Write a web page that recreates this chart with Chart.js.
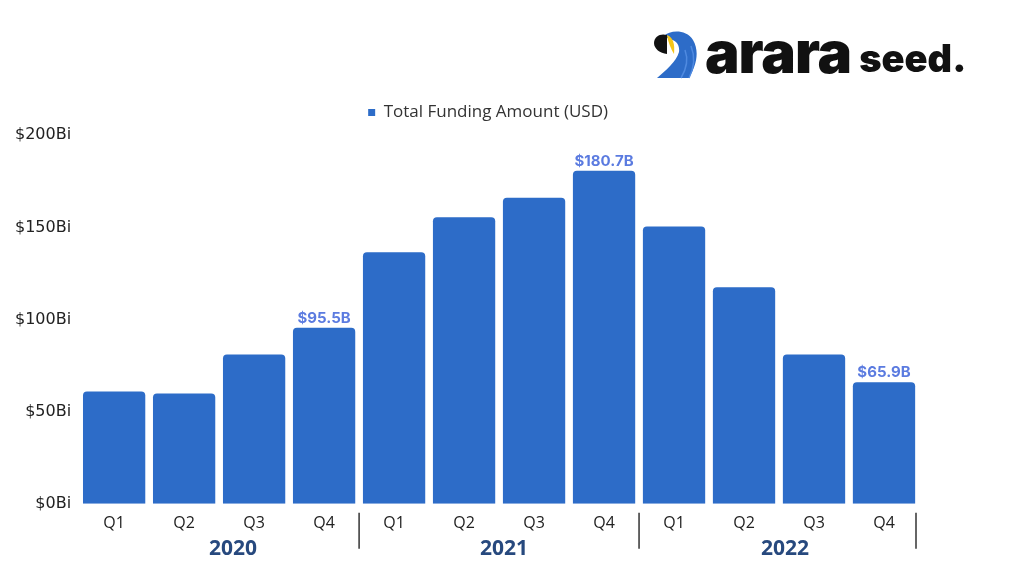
<!DOCTYPE html>
<html>
<head>
<meta charset="utf-8">
<script src="https://cdn.jsdelivr.net/npm/chart.js@4.4.0/dist/chart.umd.min.js"></script>
<style>
  html, body { margin: 0; padding: 0; background: #ffffff; }
  #wrap { position: relative; width: 1024px; height: 576px; }
  #logo { position: absolute; left: 652px; top: 17px; height: 70px; display: flex; align-items: center; font-family: "Inter", sans-serif; color: #111; }
  #logo .big { font-size: 58px; font-weight: 900; letter-spacing: -1px; margin-left: 5px; line-height: 1; }
  #logo .small { font-size: 38px; font-weight: 900; margin-left: 8px; line-height: 1; margin-top: 12px; }
</style>
</head>
<body>
<div id="wrap">
  <canvas id="funding-chart" width="1024" height="576"></canvas>
  <div id="logo">
    <svg width="48" height="50" viewBox="0 0 48 50" style="margin-top:6px">
      <path d="M12 6 C18 0 34 -1 41 10 C48 22 44 36 37 48 L5 48 C14 40 24 32 27 22 C28 15 24 10 17 9 Z" fill="#2d6cc8"/>
      <path d="M37 48 C42 38 43 26 39 16" stroke="#4f8ae0" stroke-width="1.5" fill="none"/>
      <path d="M29 48 C35 38 36 28 33 20" stroke="#4f8ae0" stroke-width="1.5" fill="none"/>
      <path d="M2 13 C2 6 9 3 15 5 L15 24 C8 23 2 19 2 13 Z" fill="#111"/>
      <path d="M15 5 C21 7 23 14 22 24 C19 19 16 12 15 5 Z" fill="#f5c518"/>
    </svg>
    <span class="big">arara</span><span class="small">seed.</span>
  </div>
</div>
<script>
// quarters on the x axis, grouped by year
const quarters = ["Q1", "Q2", "Q3", "Q4", "Q1", "Q2", "Q3", "Q4", "Q1", "Q2", "Q3", "Q4"];
const years = ["2020", "2021", "2022"];
// total funding per quarter, in billions USD
const fundingBillions = [61, 59.8, 81, 95.5, 136.5, 155.5, 166, 180.7, 150.5, 117.5, 81, 65.9];
// only the Q4 bars carry a value label
const valueLabels = [null, null, null, "$95.5B", null, null, null, "$180.7B", null, null, null, "$65.9B"];
const yTicks = [0, 50, 100, 150, 200];

const barColor = "#2d6cc8";

// value labels above the Q4 bars
const valueLabelPlugin = {
  id: "valueLabels",
  afterDatasetsDraw(chart) {
    const ctx = chart.ctx;
    const meta = chart.getDatasetMeta(0);
    ctx.save();
    ctx.font = "bold 15px 'Inter', sans-serif";
    ctx.fillStyle = "#5b7be0";
    ctx.textAlign = "center";
    ctx.textBaseline = "bottom";
    meta.data.forEach((bar, i) => {
      if (valueLabels[i]) {
        ctx.fillText(valueLabels[i], bar.x, bar.y - 2);
      }
    });
    ctx.restore();
  }
};

// year names under the quarters, with separators after each year
const yearGroupPlugin = {
  id: "yearGroups",
  afterDraw(chart, args, opts) {
    const ctx = chart.ctx;
    const x = chart.scales.x;
    const perYear = quarters.length / years.length;
    const step = x.width / quarters.length;
    const nudge = opts.labelNudge || [];
    ctx.save();
    years.forEach((year, g) => {
      const first = g * perYear;
      const last = first + perYear - 1;
      const center = (x.getPixelForValue(first) + x.getPixelForValue(last)) / 2 + (nudge[g] || 0);
      // the closing line of the last year sits a little inside the axis end
      const edge = x.getPixelForValue(last) + step / 2 - (g === years.length - 1 ? 3 : 0);

      ctx.strokeStyle = "#333333";
      ctx.lineWidth = 1.5;
      ctx.beginPath();
      ctx.moveTo(edge, x.top + 9);
      ctx.lineTo(edge, x.top + 45);
      ctx.stroke();

      ctx.font = "bold 21px 'Open Sans', sans-serif";
      ctx.fillStyle = "#27497e";
      ctx.textAlign = "center";
      ctx.textBaseline = "middle";
      ctx.fillText(year, center, x.top + 45);
    });
    ctx.restore();
  }
};

// nudge the legend a bit left of the plot centre, as in the source image
const legendShiftPlugin = {
  id: "legendShift",
  afterLayout(chart) {
    if (chart.legend) {
      chart.legend.left -= 11;
      chart.legend.right -= 11;
    }
  }
};

const config = {
  type: "bar",
  data: {
    labels: quarters,
    datasets: [{
      label: "Total Funding Amount (USD)",
      data: fundingBillions,
      backgroundColor: barColor,
      borderWidth: 0,
      borderRadius: 4,
      borderSkipped: "bottom",
      categoryPercentage: 1.0,
      barPercentage: 0.89
    }]
  },
  options: {
    responsive: false,
    animation: false,
    layout: {
      padding: { top: 94, right: 105, bottom: 33, left: 7 }
    },
    plugins: {
      legend: {
        display: true,
        position: "top",
        fullSize: false,
        weight: 3000,
        labels: {
          usePointStyle: true,
          pointStyle: "rect",
          boxWidth: 7,
          boxHeight: 7,
          color: "#333333",
          font: { family: "'Open Sans', sans-serif", size: 17 }
        }
      },
      // empty title used only as a small gap between legend and bars
      title: {
        display: true,
        text: "",
        font: { size: 1 },
        padding: { top: 0, bottom: 3 }
      },
      tooltip: { enabled: false },
      yearGroups: { labelNudge: [14, 5, 6] }
    },
    scales: {
      x: {
        grid: { display: false, drawTicks: false },
        border: { display: false },
        ticks: {
          padding: 10,
          color: "#222222",
          font: { family: "'Open Sans', sans-serif", size: 16 }
        }
      },
      y: {
        min: 0,
        max: 200,
        grid: { display: false, drawTicks: false },
        border: { display: false },
        afterBuildTicks(axis) {
          axis.ticks = yTicks.map(v => ({ value: v }));
        },
        ticks: {
          padding: 8,
          color: "#222222",
          font: { family: "'DejaVu Sans', sans-serif", size: 16 },
          callback: (value) => "$" + value + "Bi"
        }
      }
    }
  },
  plugins: [valueLabelPlugin, yearGroupPlugin, legendShiftPlugin]
};

new Chart(document.getElementById("funding-chart").getContext("2d"), config);
</script>
</body>
</html>
